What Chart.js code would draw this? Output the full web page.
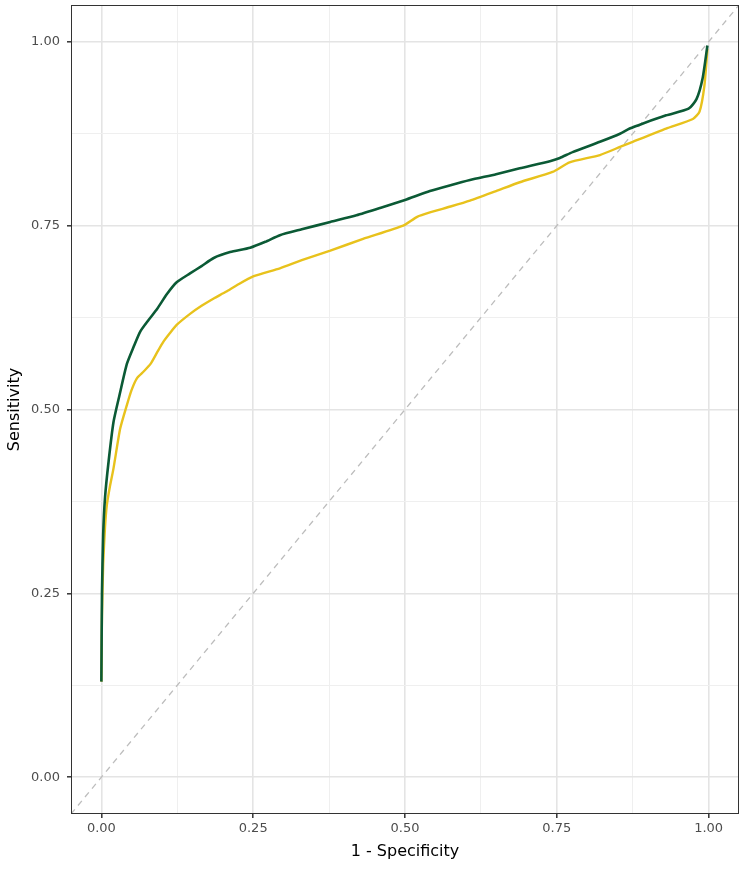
<!DOCTYPE html>
<html>
<head>
<meta charset="utf-8">
<script src="https://cdn.jsdelivr.net/npm/chart.js@4/dist/chart.umd.min.js"></script>
<style>
  html, body { margin: 0; padding: 0; background: #fff; }
  #wrap { width: 749px; height: 871px; }
</style>
</head>
<body>
<div id="wrap"><canvas id="rocChart"></canvas></div>
<script>
// ROC curves, values
const tickValues = [0, 0.125, 0.25, 0.375, 0.5, 0.625, 0.75, 0.875, 1];

const greenFpr = [0, 0.001, 0.003, 0.006, 0.012, 0.020, 0.030, 0.042, 0.053, 0.064, 0.078, 0.092, 0.108, 0.124, 0.146, 0.165, 0.185, 0.212, 0.245, 0.270, 0.294, 0.330, 0.377, 0.420, 0.459, 0.500, 0.541, 0.575, 0.607, 0.650, 0.689, 0.740, 0.755, 0.776, 0.821, 0.854, 0.870, 0.892, 0.930, 0.967, 0.980, 0.990, 0.998];
const greenTpr = [0.13, 0.25, 0.33, 0.38, 0.43, 0.483, 0.52, 0.562, 0.585, 0.606, 0.622, 0.637, 0.657, 0.673, 0.685, 0.695, 0.706, 0.714, 0.720, 0.728, 0.737, 0.745, 0.755, 0.764, 0.774, 0.785, 0.797, 0.805, 0.812, 0.820, 0.828, 0.838, 0.842, 0.850, 0.864, 0.875, 0.882, 0.889, 0.900, 0.909, 0.922, 0.950, 0.995];

const yellowFpr = [0, 0.001, 0.003, 0.006, 0.009, 0.014, 0.020, 0.031, 0.042, 0.050, 0.059, 0.070, 0.081, 0.092, 0.102, 0.113, 0.124, 0.146, 0.165, 0.185, 0.205, 0.223, 0.250, 0.294, 0.330, 0.377, 0.431, 0.497, 0.520, 0.541, 0.575, 0.607, 0.650, 0.689, 0.743, 0.771, 0.821, 0.854, 0.875, 0.930, 0.974, 0.985, 0.993, 0.998];
const yellowTpr = [0.13, 0.22, 0.29, 0.34, 0.37, 0.395, 0.42, 0.474, 0.506, 0.527, 0.543, 0.552, 0.562, 0.578, 0.592, 0.604, 0.615, 0.630, 0.641, 0.651, 0.660, 0.669, 0.681, 0.692, 0.703, 0.716, 0.732, 0.750, 0.762, 0.768, 0.776, 0.784, 0.797, 0.809, 0.823, 0.836, 0.846, 0.857, 0.864, 0.882, 0.895, 0.905, 0.940, 0.990];

const diagX = [-0.05, 1.05];
const diagY = [-0.05, 1.05];

const toPoints = (xs, ys) => xs.map((x, i) => ({ x: x, y: ys[i] }));

const isMajor = v => Math.abs(v * 4 - Math.round(v * 4)) < 1e-6;

// full panel border like theme_bw
const panelBorder = {
    id: 'panelBorder',
    afterDraw(chart) {
        const a = chart.chartArea;
        const ctx = chart.ctx;
        ctx.save();
        ctx.strokeStyle = '#333333';
        ctx.lineWidth = 1;
        ctx.strokeRect(a.left + 0.5, a.top + 0.5, a.right - a.left - 1, a.bottom - a.top - 1);
        ctx.restore();
    }
};

const axisCommon = (title, isX) => ({
    type: 'linear',
    min: -0.05,
    max: 1.05,
    afterBuildTicks: scale => { scale.ticks = tickValues.map(v => ({ value: v })); },
    border: { display: false },
    grid: {
        drawTicks: true,
        tickLength: 4,
        color: c => isMajor(c.tick.value) ? '#e4e4e4' : '#efefef',
        lineWidth: c => isMajor(c.tick.value) ? 1.6 : 1,
        tickColor: c => isMajor(c.tick.value) ? '#333333' : 'rgba(0,0,0,0)',
        tickWidth: 1.5
    },
    ticks: {
        autoSkip: false,
        maxRotation: 0,
        padding: isX ? 3 : 7,
        color: '#4d4d4d',
        font: { family: 'DejaVu Sans', size: 13 },
        callback: v => isMajor(v) ? v.toFixed(2) : ''
    },
    title: {
        display: true,
        text: title,
        color: '#000000',
        font: { family: 'DejaVu Sans', size: 16 },
        padding: isX ? { top: 10, bottom: 10 } : { top: 5, bottom: 5 }
    }
});

const xAxis = axisCommon('1 - Specificity', true);
xAxis.afterFit = s => { s.height = 57; s.paddingLeft = 0; s.paddingRight = 0; };
const yAxis = axisCommon('Sensitivity', false);
yAxis.afterFit = s => { s.width = 71; s.paddingTop = 0; s.paddingBottom = 0; };

const data = {
    datasets: [{
        label: 'Green',
        data: toPoints(greenFpr, greenTpr),
        borderColor: '#0b5a35',
        borderWidth: 2.6,
        pointRadius: 0,
        tension: 0.2,
        order: 0
    }, {
        label: 'Yellow',
        data: toPoints(yellowFpr, yellowTpr),
        borderColor: '#e8c21c',
        borderWidth: 2.4,
        pointRadius: 0,
        tension: 0.2,
        order: 1
    }, {
        label: 'Chance',
        data: toPoints(diagX, diagY),
        borderColor: '#bdbdbd',
        borderWidth: 1.3,
        borderDash: [6, 5],
        pointRadius: 0,
        order: 2
    }]
};

const config = {
    type: 'line',
    data: data,
    options: {
        responsive: true,
        maintainAspectRatio: false,
        animation: false,
        layout: { padding: { left: 0, right: 10, top: 5, bottom: 0 } },
        plugins: { legend: { display: false }, tooltip: { enabled: false } },
        scales: { x: xAxis, y: yAxis }
    },
    plugins: [panelBorder]
};

const myChart = new Chart(document.getElementById('rocChart'), config);
</script>
</body>
</html>
